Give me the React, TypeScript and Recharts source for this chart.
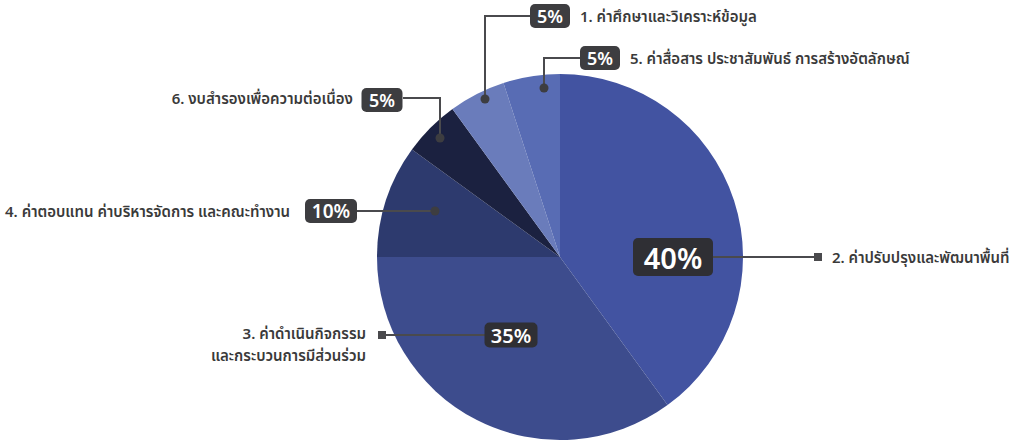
import React from 'react';
import { PieChart, Pie, Cell } from 'recharts';

const categories: string[] = [
  '2. ค่าปรับปรุงและพัฒนาพื้นที่',
  '3. ค่าดำเนินกิจกรรม|และกระบวนการมีส่วนร่วม',
  '4. ค่าตอบแทน ค่าบริหารจัดการ และคณะทำงาน',
  '6. งบสำรองเพื่อความต่อเนื่อง',
  '1. ค่าศึกษาและวิเคราะห์ข้อมูล',
  '5. ค่าสื่อสาร ประชาสัมพันธ์ การสร้างอัตลักษณ์',
];
const values: number[] = [40, 35, 10, 5, 5, 5];
const colors: string[] = ['#4253A1', '#3D4C8D', '#2D3A6E', '#1B2140', '#6A7CBB', '#586CB4'];

const data = categories.map((name, i) => ({ name, value: values[i] }));

const FONT = "'Noto Sans', 'Noto Sans Thai', sans-serif";

type Layout = {
  box: [number, number];
  w: number;
  h: number;
  fs: number;
  boxFill: string;
  path: [number, number][];
  marker: 'dot' | 'square';
  mark: [number, number];
  text: [number, number];
  anchor: 'start' | 'end';
};

const layouts: Layout[] = [
  { box: [113, 0], w: 80, h: 38, fs: 29, boxFill: '#2f2f34', path: [[153, 0], [258, 0]], marker: 'square', mark: [258, 0], text: [272, 0], anchor: 'start' },
  { box: [-49, 78], w: 53, h: 25, fs: 20, boxFill: '#2f2f34', path: [[-75, 78], [-178, 78]], marker: 'square', mark: [-178, 78], text: [-194, 76], anchor: 'end' },
  { box: [-229, -46], w: 52, h: 24, fs: 19, boxFill: '#3d3d40', path: [[-203, -46], [-125, -46]], marker: 'dot', mark: [-125, -46], text: [-270, -46], anchor: 'end' },
  { box: [-178, -157], w: 41, h: 24, fs: 18, boxFill: '#3d3d40', path: [[-157, -159], [-120, -159], [-120, -119]], marker: 'dot', mark: [-120, -119], text: [-207, -159], anchor: 'end' },
  { box: [-10, -241], w: 40, h: 24, fs: 18, boxFill: '#3d3d40', path: [[-30, -241], [-75, -241], [-75, -158]], marker: 'dot', mark: [-75, -158], text: [20, -241], anchor: 'start' },
  { box: [40, -199], w: 40, h: 24, fs: 18, boxFill: '#3d3d40', path: [[20, -199], [-16, -199], [-16, -169]], marker: 'dot', mark: [-16, -169], text: [70, -199], anchor: 'start' },
];

const renderLabel = (props: any) => {
  const { cx, cy, index, value, name } = props;
  const L = layouts[index];
  if (!L) return null;
  const bx = cx + L.box[0];
  const by = cy + L.box[1];
  const pts = L.path.map(([x, y]) => `${cx + x},${cy + y}`).join(' ');
  const mx = cx + L.mark[0];
  const my = cy + L.mark[1];
  const lines = String(name).split('|');
  return (
    <g key={`lbl-${index}`}>
      <polyline points={pts} fill="none" stroke="#4a4a4d" strokeWidth={2} />
      {L.marker === 'dot' ? (
        <circle cx={mx} cy={my} r={4.5} fill="#3d3d40" />
      ) : (
        <rect x={mx - 4} y={my - 4} width={8} height={8} fill="#4a4a4d" />
      )}
      <rect x={bx - L.w / 2} y={by - L.h / 2} width={L.w} height={L.h} rx={5} ry={5} fill={L.boxFill} />
      <text x={bx} y={by} textAnchor="middle" dominantBaseline="central" fill="#ffffff" fontSize={L.fs} fontWeight={600} fontFamily={FONT}>
        {`${value}%`}
      </text>
      {lines.map((ln, k) => (
        <text key={k} x={cx + L.text[0]} y={cy + L.text[1] + k * 22} textAnchor={L.anchor} dominantBaseline="central" fill="#3a3a3a" fontSize={15} fontWeight={600} fontFamily={FONT}>
          {ln}
        </text>
      ))}
    </g>
  );
};

export default function App() {
  return (
    <div style={{ position: 'absolute', left: 0, top: 0, width: 1012, height: 441, background: '#ffffff' }}>
      <PieChart width={1012} height={441} margin={{ top: 0, right: 0, bottom: 0, left: 0 }}>
        <Pie
          data={data}
          dataKey="value"
          nameKey="name"
          cx={560}
          cy={257}
          outerRadius={183}
          startAngle={90}
          endAngle={-270}
          stroke="none"
          label={renderLabel}
          labelLine={false}
          isAnimationActive={false}
        >
          {data.map((d, i) => (
            <Cell key={d.name} fill={colors[i]} />
          ))}
        </Pie>
      </PieChart>
    </div>
  );
}
